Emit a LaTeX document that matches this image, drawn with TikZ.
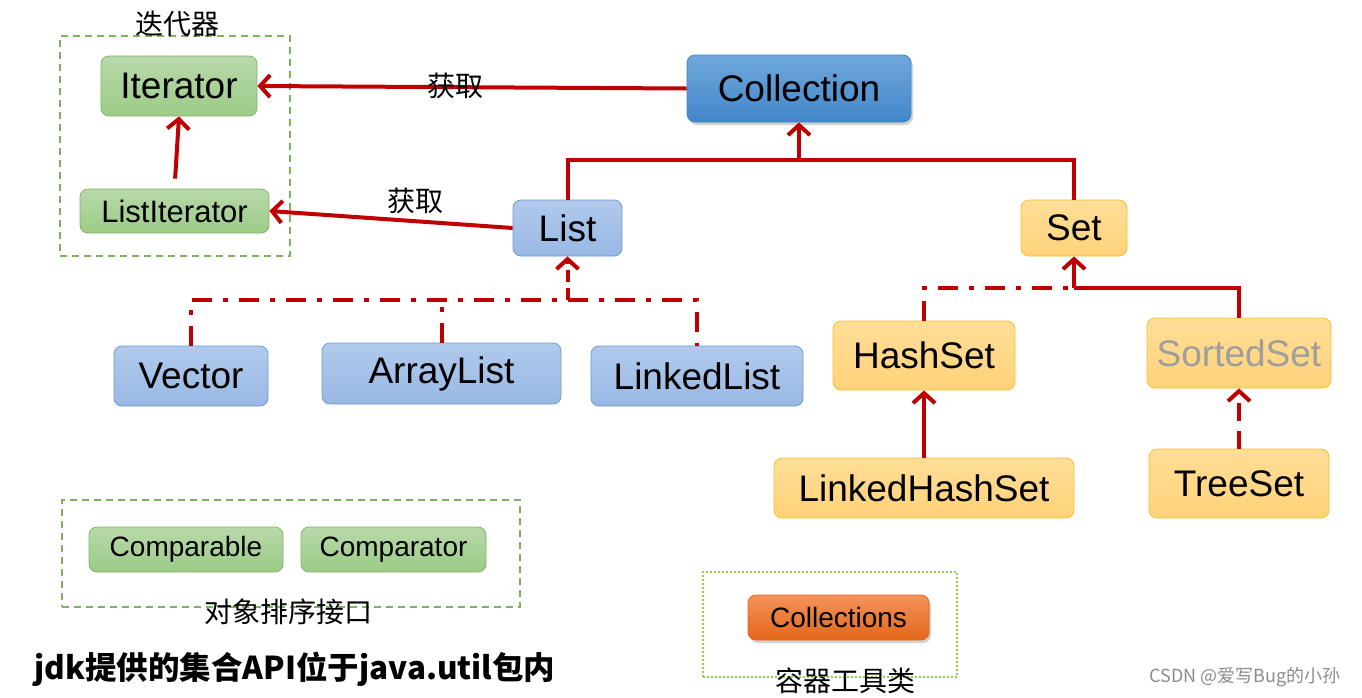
\documentclass[tikz,border=0pt]{standalone}
\usepackage{fontspec}
\setmainfont{Liberation Sans}
\newfontfamily\cjk{Noto Sans CJK SC}
\usetikzlibrary{arrows.meta,shadows}
\definecolor{arrred}{HTML}{C00000}
\definecolor{grtop}{HTML}{B8D9AA}
\definecolor{grbot}{HTML}{9CCB87}
\definecolor{grline}{HTML}{82B366}
\definecolor{bltop}{HTML}{B1CAEC}
\definecolor{blbot}{HTML}{98B8E4}
\definecolor{blline}{HTML}{6C9BD2}
\definecolor{cotop}{HTML}{70A8DD}
\definecolor{cobot}{HTML}{4286C8}
\definecolor{ortop}{HTML}{FFDE98}
\definecolor{orbot}{HTML}{FFD279}
\definecolor{orline}{HTML}{F5C033}
\definecolor{cstop}{HTML}{F3935A}
\definecolor{csbot}{HTML}{E5661A}
\definecolor{frgreen}{HTML}{7DB35E}
\definecolor{dotgreen}{HTML}{8FD14F}
\tikzset{
  box/.style={rounded corners=8pt, line width=0.8pt, inner sep=0pt, align=center},
  greenbox/.style={box, draw=grline, top color=grtop, bottom color=grbot},
  bluebox/.style={box, draw=blline, top color=bltop, bottom color=blbot},
  collbox/.style={box, draw=cobot, top color=cotop, bottom color=cobot,
    drop shadow={shadow xshift=2pt, shadow yshift=-3pt, opacity=0.35}},
  orangebox/.style={box, draw=orline, top color=ortop, bottom color=orbot},
  toolbox/.style={box, draw=csbot, top color=cstop, bottom color=csbot,
    drop shadow={shadow xshift=2pt, shadow yshift=-3pt, opacity=0.35}},
  big/.style={font=\fontsize{37}{42}\selectfont},
  mid/.style={font=\fontsize{31}{35}\selectfont},
  small/.style={font=\fontsize{28}{31}\selectfont},
  frame/.style={draw=frgreen, line width=1.5pt, dash pattern=on 7pt off 5pt, inner sep=0pt},
  dotframe/.style={draw=dotgreen, line width=1.5pt, dash pattern=on 2pt off 2pt, inner sep=0pt},
  cjklabel/.style={font=\cjk\fontsize{28}{32}\selectfont, inner sep=0pt},
  redline/.style={draw=arrred, line width=4pt},
  arr/.style={redline, -{Straight Barb[length=10pt,width=22pt]}},
  dashdot/.style={redline, dash pattern=on 20pt off 11pt on 5pt off 11pt},
}
\begin{document}
\begin{tikzpicture}[x=1pt,y=-1pt]
\useasboundingbox (0,0) rectangle (1362,697);
\fill[white] (0,0) rectangle (1362,697);

% frames
\node[frame, minimum width=230pt, minimum height=220pt] (itframe) at (175,146) {};
\node[cjklabel] (itlabel) at (177,24) {迭代器};
\node[frame, minimum width=458pt, minimum height=107pt] (sortframe) at (291,553.5) {};
\node[cjklabel] (sortlabel) at (288,612) {对象排序接口};
\node[dotframe, minimum width=254pt, minimum height=105pt] (toolframe) at (830,624.5) {};

% nodes
\node[greenbox, big, minimum width=156pt, minimum height=60pt] (Iterator) at (179,86) {Iterator};
\node[greenbox, mid, minimum width=189pt, minimum height=44pt] (ListIterator) at (174.5,211) {ListIterator};
\node[collbox, big, minimum width=224pt, minimum height=67pt] (Collection) at (799,88.5) {Collection};
\node[bluebox, big, minimum width=109pt, minimum height=56pt] (List) at (567.5,228) {List};
\node[orangebox, big, minimum width=106pt, minimum height=56pt] (Set) at (1074,228) {Set};
\node[bluebox, big, minimum width=154pt, minimum height=60pt] (Vector) at (191,376) {Vector};
\node[bluebox, big, minimum width=239pt, minimum height=61pt] (ArrayList) at (441.5,373.5) {ArrayList};
\node[bluebox, big, minimum width=212pt, minimum height=60pt] (LinkedList) at (697,376) {LinkedList};
\node[orangebox, big, minimum width=182pt, minimum height=69pt] (HashSet) at (924,355.5) {HashSet};
\node[orangebox, big, minimum width=184pt, minimum height=70pt, text=black!38] (SortedSet) at (1239,353) {SortedSet};
\node[orangebox, big, minimum width=300pt, minimum height=60pt] (LinkedHashSet) at (924,488) {LinkedHashSet};
\node[orangebox, big, minimum width=180pt, minimum height=69pt] (TreeSet) at (1239,483.5) {TreeSet};
\node[greenbox, small, minimum width=194pt, minimum height=45pt] (Comparable) at (186,549.5) {Comparable};
\node[greenbox, small, minimum width=185pt, minimum height=45pt] (Comparator) at (393.5,549.5) {Comparator};
\node[toolbox, small, minimum width=181pt, minimum height=45pt] (Collections) at (838.5,617.5) {Collections};

% connectors
\draw[arr] (Collection.west) -- (Iterator.east);
\draw[arr] (List.west) -- (ListIterator.east);
\draw[arr, shorten <=10pt] (ListIterator.north) -- (Iterator.south);

\coordinate (cjoin) at (799,160);
\draw[redline] (List.north) |- (cjoin) -| (Set.north);
\draw[arr] (cjoin) -- (Collection.south);

\coordinate (ljoin) at (567.5,300);
\draw[dashdot] (Vector.north) |- (ljoin);
\draw[dashdot] (ljoin) -| (LinkedList.north);
\draw[dashdot] (ArrayList.north) -- (ArrayList.north |- ljoin);
\draw[arr, dash pattern=on 12pt off 6pt] (ljoin) -- (List.south);

\coordinate (sjoin) at (1074,288);
\draw[dashdot] (HashSet.north) |- (sjoin);
\draw[redline] (SortedSet.north) |- (sjoin);
\draw[arr] (sjoin) -- (Set.south);
\draw[arr] (LinkedHashSet.north) -- (HashSet.south);
\draw[arr, dash pattern=on 18pt off 10pt] (TreeSet.north) -- (SortedSet.south);

% labels
\node[cjklabel] (get1) at (455,86) {获取};
\node[cjklabel] (get2) at (415,201) {获取};
\node[cjklabel] (toollabel) at (845,681) {容器工具类};
\node[font=\cjk\bfseries\fontsize{31.5}{35}\selectfont, inner sep=0pt] (title) at (295,669) {jdk提供的集合API位于java.util包内};
\node[font=\cjk\fontsize{18}{20}\selectfont, text=black!45, inner sep=0pt] (wm) at (1245,677) {CSDN @爱写Bug的小孙};
\end{tikzpicture}
\end{document}
